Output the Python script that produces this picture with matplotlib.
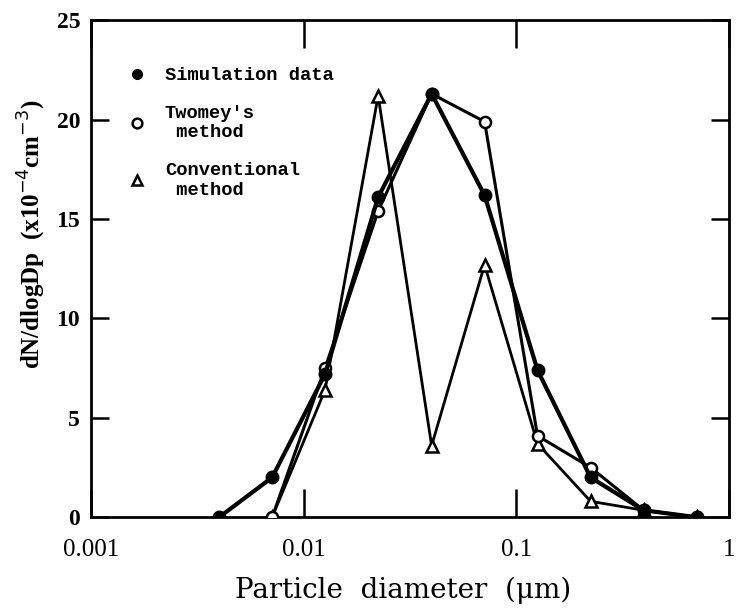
import numpy as np
import matplotlib
matplotlib.use("Agg")
import matplotlib.pyplot as plt

# bin centres (um), quarter-decade spacing
dp_sim = [0.004, 0.0071, 0.0126, 0.0224, 0.040, 0.071, 0.126, 0.224, 0.398, 0.708]
n_sim = [0.0, 2.0, 7.2, 16.1, 21.3, 16.2, 7.4, 2.0, 0.35, 0.0]

dp_twomey = [0.0071, 0.0126, 0.0224, 0.040, 0.071, 0.126, 0.224, 0.398, 0.708]
n_twomey = [0.0, 7.5, 15.4, 21.3, 19.9, 4.1, 2.5, 0.35, 0.0]

dp_conv = [0.0071, 0.0126, 0.0224, 0.040, 0.071, 0.126, 0.224, 0.398, 0.708]
n_conv = [0.0, 6.4, 21.2, 3.6, 12.7, 3.7, 0.8, 0.35, 0.0]

x_ticks = [0.001, 0.01, 0.1, 1]
x_ticklabels = ["0.001", "0.01", "0.1", "1"]
y_ticks = [0, 5, 10, 15, 20, 25]

serif = ["Liberation Serif", "DejaVu Serif"]
wide_serif = ["DejaVu Serif"]
mono = ["Liberation Mono", "DejaVu Sans Mono"]

fig = plt.figure(figsize=(7.36, 6.15), dpi=100)
ax = fig.add_axes([0.124, 0.159, 0.866, 0.808])

ax.plot(dp_conv, n_conv, color="black", lw=2.0, marker="^", ms=8,
        mfc="white", mec="black", mew=1.8, label="Conventional\n method", zorder=2)
ax.plot(dp_twomey, n_twomey, color="black", lw=2.2, marker="o", ms=8,
        mfc="white", mec="black", mew=1.8, label="Twomey's\n method", zorder=3)
ax.plot(dp_sim, n_sim, color="black", lw=3.0, marker="o", ms=9,
        mfc="black", mec="black", label="Simulation data", zorder=4)

ax.set_xscale("log")
ax.set_xlim(0.001, 1)
ax.set_ylim(0, 25)
ax.set_xticks(x_ticks)
ax.set_xticklabels(x_ticklabels, fontsize=18, family=serif)
ax.minorticks_off()
ax.set_yticks(y_ticks)
ax.set_yticklabels([str(v) for v in y_ticks], fontsize=17, family=serif, fontweight="bold")
ax.tick_params(axis="both", direction="in", top=True, right=True, width=1.8)
ax.tick_params(axis="x", pad=16, length=20)
ax.tick_params(axis="y", pad=8, length=13)
for s in ax.spines.values():
    s.set_linewidth(2.0)

ax.set_xlabel("Particle  diameter  (\u03bcm)", fontsize=20, family=wide_serif)
ax.xaxis.set_label_coords(0.49, -0.12)
ax.set_ylabel("dN/dlogDp  (x10$^{-4}$cm$^{-3}$)", fontsize=18, family=serif,
              fontweight="bold")
ax.yaxis.set_label_coords(-0.068, 0.57)

h, l = ax.get_legend_handles_labels()
leg = ax.legend(h[::-1], l[::-1], loc="upper left", bbox_to_anchor=(0.045, 0.94),
                frameon=False, handlelength=0, handletextpad=1.5, labelspacing=1.1,
                prop={"family": mono, "weight": "bold", "size": 13.5})
for hd in leg.legend_handles:
    hd.set_markersize(7)

fig.savefig("out.png", dpi=100)
